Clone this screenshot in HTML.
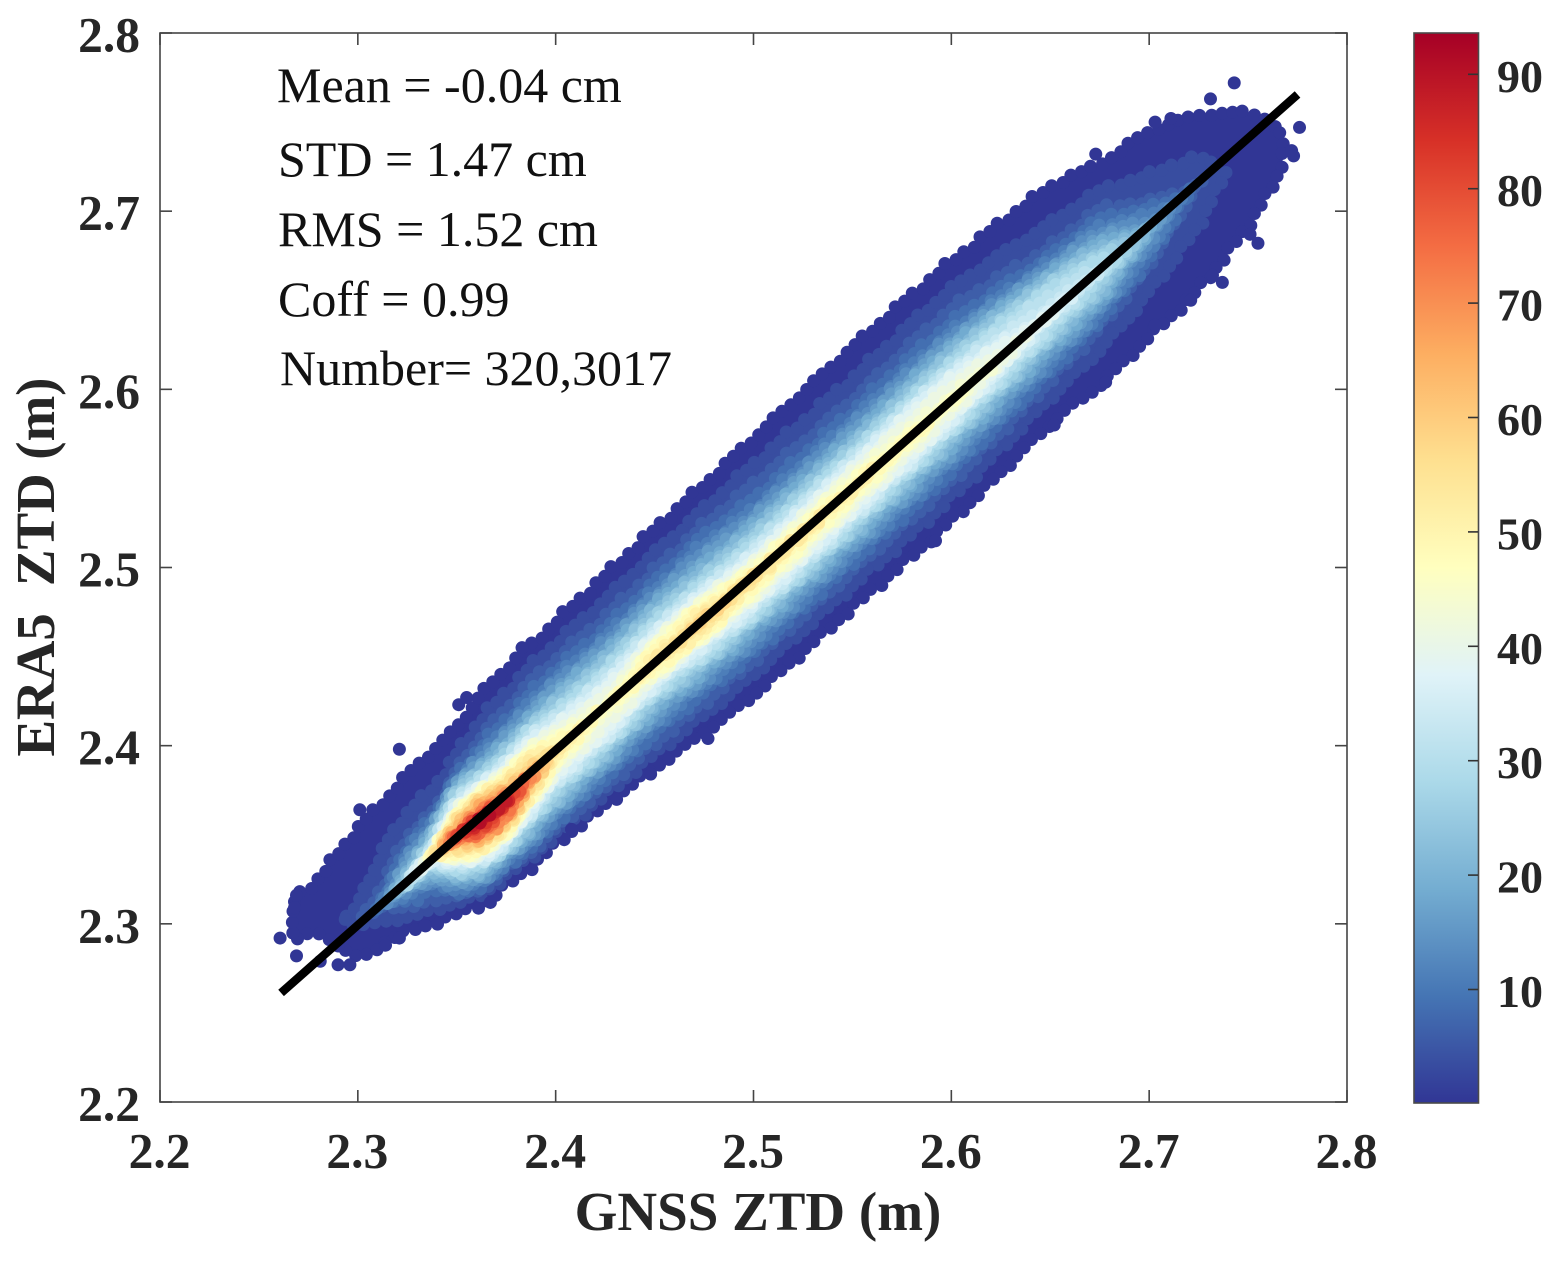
<!DOCTYPE html>
<html lang="en">
<head>
<meta charset="utf-8">
<title>ERA5 ZTD vs GNSS ZTD density scatter</title>
<style>
html,body{margin:0;padding:0;background:#fff;}
svg{display:block;}
text{font-family:"Liberation Serif",serif;}
.tick{font-weight:bold;font-size:49.5px;fill:#262626;}
.cbar-tick{font-weight:bold;font-size:46px;fill:#262626;}
.axis-title{font-weight:bold;font-size:55px;fill:#262626;}
.stat{font-size:50px;fill:#111;}
</style>
</head>
<body>
<svg id="chart" xmlns="http://www.w3.org/2000/svg" width="1558" height="1262" viewBox="0 0 1558 1262">
  <defs>
    <linearGradient id="cbar-gradient" x1="0" y1="1" x2="0" y2="0"></linearGradient>
    <clipPath id="plot-clip"><rect x="160" y="33" width="1187" height="1069"></rect></clipPath>
  </defs>
  <rect x="0" y="0" width="1558" height="1262" fill="#fff"></rect>
  <g id="density-layer" clip-path="url(#plot-clip)"></g>
  <g id="outlier-layer" clip-path="url(#plot-clip)"></g>
  <g id="line-layer"></g>
  <g id="axes-layer"></g>
  <g id="colorbar-layer"></g>
  <text class="axis-title" x="758" y="1230" text-anchor="middle">GNSS ZTD (m)</text>
  <text class="axis-title" transform="translate(54,567) rotate(-90)" text-anchor="middle" textLength="379" xml:space="preserve">ERA5  ZTD (m)</text>
  <text class="stat" x="277" y="102">Mean = -0.04 cm</text>
  <text class="stat" x="278" y="176">STD = 1.47 cm</text>
  <text class="stat" x="278" y="246">RMS = 1.52 cm</text>
  <text class="stat" x="278" y="316">Coff = 0.99</text>
  <text class="stat" x="280" y="385">Number= 320,3017</text>
</svg>
<script>
// ---- Axis tick labels ----
const xTicks = ["2.2", "2.3", "2.4", "2.5", "2.6", "2.7", "2.8"];
const yTicks = ["2.2", "2.3", "2.4", "2.5", "2.6", "2.7", "2.8"];
const colorbarTicks = [10, 20, 30, 40, 50, 60, 70, 80, 90];

// ---- Fit line (GNSS, ERA5) end points in metres ----
const lineGnss = [2.2612, 2.7750];
const lineEra5 = [2.2612, 2.7655];

// ---- Density band ----
// Stations along GNSS ZTD (m)
const stations = [2.268, 2.28, 2.30, 2.3125, 2.325, 2.3375, 2.35, 2.3625, 2.375, 2.3875, 2.40, 2.425, 2.45, 2.475, 2.50, 2.55, 2.60, 2.65, 2.675, 2.70, 2.725, 2.75, 2.766];
// Peak point density on each station's cross-section
const peakDensity = [1.5, 2, 4.5, 10, 28, 48, 80, 93, 88, 68, 54, 47, 53, 60, 56, 52, 47, 38, 33, 19, 5.5, 1.5, 1.2];
// ERA5 - GNSS (cm) where the peak sits
const ridgeOffset = [3.4, 3.0, 0, -0.1, -0.2, 0.05, -0.1, -0.4, -0.6, -0.5, -0.3, -0.4, -0.2, -0.45, -0.5, -0.6, -0.7, -0.8, -0.85, -1.0, -1.0, -2.5, -3.0];

// Contour density levels and their ERA5 - GNSS offsets (cm) at each station
const anchorLevels = [1, 5, 10, 20, 30, 40, 50, 60, 70, 80, 90];
const n = null;
const upper1 = [4.8, 4.9, 5.7, 5.9, 6.2, 6.3, 6.4, 7.0, 7.2, 7.2, 7.3, 7.4, 7.5, 7.5, 7.6, 7.7, 7.5, 6.7, 5.5, 4.8, 3.2, 0.85, -1.8];
const lower1 = [2.0, 1.1, -2.2, -2.7, -3.3, -4.1, -4.8, -5.5, -5.7, -5.9, -5.9, -6.2, -6.6, -7.1, -7.5, -7.6, -7.7, -7.3, -7.6, -7.4, -7.2, -6.1, -4.6];
const upper5 = [n, n, n, 1.8, 3.1, 3.1, 4.2, 5.0, 5.3, 5.6, 5.6, 5.5, 5.6, 5.6, 5.5, 5.2, 5.3, 3.7, 3.3, 1.2, -0.3, n, n];
const lower5 = [n, n, n, -0.9, -2.3, -3.1, -4.0, -4.9, -5.0, -5.3, -5.3, -5.5, -5.6, -5.8, -5.9, -5.9, -5.9, -5.2, -4.7, -3.6, -1.7, n, n];
const upper10 = [n, n, n, n, 2.0, 2.45, 3.5, 3.9, 4.1, 4.3, 4.4, 4.2, 4.3, 4.45, 3.9, 3.9, 3.8, 2.7, 2.2, 0.45, n, n, n];
const lower10 = [n, n, n, n, -1.5, -2.1, -3.65, -4.5, -4.6, -4.8, -4.6, -4.6, -4.5, -4.7, -5.0, -4.9, -4.8, -4.2, -3.8, -2.9, n, n, n];
const upper20 = [n, n, n, n, 0.9, 1.7, 3.1, 2.95, 3.0, 3.1, 3.2, 3.0, 3.2, 2.95, 2.7, 2.6, 2.7, 1.8, 1.0, n, n, n, n];
const lower20 = [n, n, n, n, -0.7, -1.4, -2.9, -3.8, -4.0, -3.9, -3.7, -3.6, -3.3, -3.6, -3.7, -3.7, -3.5, -2.9, -2.7, n, n, n, n];
const upper30 = [n, n, n, n, n, 1.05, 2.4, 2.3, 2.2, 2.5, 2.2, 2.0, 2.2, 2.0, 1.7, 1.7, 1.7, 1.0, 0.1, n, n, n, n];
const lower30 = [n, n, n, n, n, -0.9, -2.35, -3.3, -3.5, -3.1, -2.8, -2.8, -2.4, -2.8, -3.0, -2.9, -2.6, -2.0, -1.5, n, n, n, n];
const upper40 = [n, n, n, n, n, 0.55, 1.8, 1.8, 1.6, 1.7, 1.4, 1.0, 1.35, 1.25, 0.8, 0.9, 0.9, n, n, n, n, n, n];
const lower40 = [n, n, n, n, n, -0.55, -1.85, -2.85, -3.0, -2.5, -2.0, -2.0, -1.7, -1.9, -2.2, -2.1, -1.9, n, n, n, n, n, n];
const upper50 = [n, n, n, n, n, n, 1.4, 1.45, 1.1, 1.2, 0.5, n, 0.7, 0.7, 0.1, -0.1, n, n, n, n, n, n, n];
const lower50 = [n, n, n, n, n, n, -1.5, -2.5, -2.6, -2.0, -1.2, n, -1.1, -1.6, -1.4, -1.1, n, n, n, n, n, n, n];
const upper60 = [n, n, n, n, n, n, 1.0, 1.1, 0.55, 0.3, n, n, n, n, n, n, n, n, n, n, n, n, n];
const lower60 = [n, n, n, n, n, n, -1.0, -2.0, -2.2, -1.4, n, n, n, n, n, n, n, n, n, n, n, n, n];
const upper70 = [n, n, n, n, n, n, 0.45, 0.6, 0.15, n, n, n, n, n, n, n, n, n, n, n, n, n, n];
const lower70 = [n, n, n, n, n, n, -0.7, -1.7, -1.9, n, n, n, n, n, n, n, n, n, n, n, n, n, n];
const upper80 = [n, n, n, n, n, n, 0.17, 0.25, -0.1, n, n, n, n, n, n, n, n, n, n, n, n, n, n];
const lower80 = [n, n, n, n, n, n, -0.3, -1.4, -1.1, n, n, n, n, n, n, n, n, n, n, n, n, n, n];
const upper90 = [n, n, n, n, n, n, n, 0.0, n, n, n, n, n, n, n, n, n, n, n, n, n, n, n];
const lower90 = [n, n, n, n, n, n, n, -0.8, n, n, n, n, n, n, n, n, n, n, n, n, n, n, n];

// Isolated points on the rim of the cloud (GNSS m, ERA5 m)
const outlierGnss = [2.2607, 2.269, 2.268, 2.269, 2.301, 2.321, 2.351, 2.355, 2.383, 2.673, 2.703, 2.711, 2.731, 2.743, 2.776, 2.772, 2.773, 2.755, 2.751, 2.737, 2.732, 2.721, 2.703, 2.678, 2.652, 2.592, 2.518, 2.477, 2.448, 2.408, 2.367, 2.334, 2.321, 2.314, 2.296, 2.290, 2.281];
const outlierEra5 = [2.292, 2.282, 2.309, 2.316, 2.364, 2.398, 2.423, 2.427, 2.455, 2.732, 2.750, 2.752, 2.763, 2.772, 2.747, 2.734, 2.731, 2.682, 2.687, 2.660, 2.664, 2.650, 2.636, 2.604, 2.580, 2.515, 2.448, 2.404, 2.384, 2.353, 2.312, 2.299, 2.292, 2.288, 2.277, 2.277, 2.279];

// Colormap stops (RdYlBu reversed)
const cmapStops = ["#313695", "#4575b4", "#74add1", "#abd9e9", "#e0f3f8", "#ffffbf", "#fee090", "#fdae61", "#f46d43", "#d73027", "#a50026"];
const densityMin = 0.1;
const densityMax = 93.6;

const upperByLevel = [upper1, upper5, upper10, upper20, upper30, upper40, upper50, upper60, upper70, upper80, upper90];
const lowerByLevel = [lower1, lower5, lower10, lower20, lower30, lower40, lower50, lower60, lower70, lower80, lower90];

// ---- Scales ----
const SVGNS = "http://www.w3.org/2000/svg";
function sx(g) { return 160 + (g - 2.2) * 1187 / 0.6; }
function sy(e) { return 1102 - (e - 2.2) * 1069 / 0.6; }
function cy(v) { return 989.5 - (v - 10) * 11.44; }
function make(tag, parent, attrs, txt) {
  const el = document.createElementNS(SVGNS, tag);
  for (const k in attrs) el.setAttribute(k, attrs[k]);
  if (txt !== undefined) el.textContent = txt;
  parent.appendChild(el);
  return el;
}
function hex(c) { return [1, 3, 5].map(function (i) { return parseInt(c.substr(i, 2), 16); }); }
function cmap(v) {
  const t = Math.max(0, Math.min(1, (v - densityMin) / (densityMax - densityMin))) * (cmapStops.length - 1);
  const i = Math.min(cmapStops.length - 2, Math.floor(t));
  const a = hex(cmapStops[i]), b = hex(cmapStops[i + 1]), f = t - i;
  return "rgb(" + a.map(function (x, j) { return Math.round(x + (b[j] - x) * f); }).join(",") + ")";
}

// ---- Contours ----
function offsetAt(i, L, table) {
  let lo = 0;
  for (let k = 0; k < anchorLevels.length; k++) {
    if (anchorLevels[k] <= L && table[k][i] !== null) lo = k;
  }
  const v1 = anchorLevels[lo], o1 = table[lo][i];
  const nxt = lo + 1 < anchorLevels.length ? table[lo + 1][i] : null;
  const v2 = nxt !== null ? anchorLevels[lo + 1] : peakDensity[i];
  const o2 = nxt !== null ? nxt : ridgeOffset[i];
  if (v2 <= v1) return o1;
  return o1 + (o2 - o1) * Math.max(0, Math.min(1, (L - v1) / (v2 - v1)));
}
const discRadius = 6.5;
function contourRuns(L) {
  const insetCm = L === 1 ? 0.36 : 0.49;
  const runs = [];
  let run = null;
  for (let i = 0; i < stations.length; i++) {
    const p = peakDensity[i];
    if (p >= L) {
      if (!run) {
        run = [];
        if (i > 0) {
          const f = (L - peakDensity[i - 1]) / (p - peakDensity[i - 1]);
          const r = ridgeOffset[i - 1] + (ridgeOffset[i] - ridgeOffset[i - 1]) * f;
          run.push({ g: stations[i - 1] + (stations[i] - stations[i - 1]) * f, u: r, l: r });
        }
      }
      let u = offsetAt(i, L, upperByLevel) - insetCm;
      let l = offsetAt(i, L, lowerByLevel) + insetCm;
      if (u < l) { u = l = (u + l) / 2; }
      run.push({ g: stations[i], u: u, l: l });
    } else if (run) {
      const f = (peakDensity[i - 1] - L) / (peakDensity[i - 1] - p);
      const r = ridgeOffset[i - 1] + (ridgeOffset[i] - ridgeOffset[i - 1]) * f;
      run.push({ g: stations[i - 1] + (stations[i] - stations[i - 1]) * f, u: r, l: r });
      runs.push(run);
      run = null;
    }
  }
  if (run) runs.push(run);
  return runs;
}
function smoothClosed(pts) {
  const m = pts.length;
  let d = "M" + pts[0][0].toFixed(1) + " " + pts[0][1].toFixed(1);
  for (let i = 0; i < m; i++) {
    const p0 = pts[(i - 1 + m) % m], p1 = pts[i], p2 = pts[(i + 1) % m], p3 = pts[(i + 2) % m];
    d += "C" + (p1[0] + (p2[0] - p0[0]) / 6).toFixed(1) + " " + (p1[1] + (p2[1] - p0[1]) / 6).toFixed(1) + " " +
         (p2[0] - (p3[0] - p1[0]) / 6).toFixed(1) + " " + (p2[1] - (p3[1] - p1[1]) / 6).toFixed(1) + " " +
         p2[0].toFixed(1) + " " + p2[1].toFixed(1);
  }
  return d + "Z";
}

const densityLayer = document.getElementById("density-layer");
const drawLevels = [];
for (let L = 1; L < densityMax; L += 2.5) drawLevels.push(L);
drawLevels.forEach(function (L, li) {
  const color = cmap(L === 1 ? 0.1 : L);
  contourRuns(L).forEach(function (run) {
    const up = run.map(function (s) { return [sx(s.g), sy(s.g + s.u / 100)]; });
    const lo = run.map(function (s) { return [sx(s.g), sy(s.g + s.l / 100)]; }).reverse();
    const pts = up.concat(lo);
    const path = make("path", densityLayer, { d: smoothClosed(pts), fill: color, stroke: color, "stroke-width": 1 });
    
    
    const len = path.getTotalLength();
    const gap = 11;
    for (let s = (li * 3.7) % gap; s < len; s += gap) {
      const q = path.getPointAtLength(s);
      // roughen the contour so overlapping discs read like individual scatter points
      const wobble = 3 * Math.sin(s * 0.37 + li) * Math.sin(s * 0.091 + li * 0.5);
      const dot = make("circle", densityLayer, { cx: (q.x + 0.66 * wobble).toFixed(1), cy: (q.y + 0.75 * wobble).toFixed(1), r: discRadius, fill: color });
      
      
    }
  });
});

// ---- Outliers ----
const outlierLayer = document.getElementById("outlier-layer");
outlierGnss.forEach(function (g, i) {
  const dot = make("circle", outlierLayer, { cx: sx(g), cy: sy(outlierEra5[i]), r: discRadius, fill: "#313695" });
  
  
});

// ---- Fit line ----
const lineLayer = document.getElementById("line-layer");
const fitLine = make("line", lineLayer, { x1: sx(lineGnss[0]), y1: sy(lineEra5[0]), x2: sx(lineGnss[1]), y2: sy(lineEra5[1]), stroke: "#000", "stroke-width": 8.5 });



// ---- Axes ----
const axesLayer = document.getElementById("axes-layer");
const plotFrame = make("rect", axesLayer, { x: 160, y: 33, width: 1187, height: 1069, fill: "none", stroke: "#444", "stroke-width": 1.6 });


xTicks.forEach(function (t) {
  const x = sx(parseFloat(t));
  const b = make("line", axesLayer, { x1: x, y1: 1102, x2: x, y2: 1090, stroke: "#444", "stroke-width": 1.6 });
  
  
  const a = make("line", axesLayer, { x1: x, y1: 33, x2: x, y2: 45, stroke: "#444", "stroke-width": 1.6 });
  
  
  const label = make("text", axesLayer, { x: x - 0.5, y: 1167.5, "text-anchor": "middle", "class": "tick" }, t);
  
  
});
yTicks.forEach(function (t) {
  const y = sy(parseFloat(t));
  const l = make("line", axesLayer, { x1: 160, y1: y, x2: 172, y2: y, stroke: "#444", "stroke-width": 1.6 });
  
  
  const r = make("line", axesLayer, { x1: 1347, y1: y, x2: 1335, y2: y, stroke: "#444", "stroke-width": 1.6 });
  
  
  const label = make("text", axesLayer, { x: 140, y: y + 18.5, "text-anchor": "end", "class": "tick" }, t);
  
  
});

// ---- Colorbar ----
const gradient = document.getElementById("cbar-gradient");
cmapStops.forEach(function (c, i) {
  make("stop", gradient, { offset: (i / (cmapStops.length - 1)), "stop-color": c });
});
const colorbarLayer = document.getElementById("colorbar-layer");
const cbarRect = make("rect", colorbarLayer, { x: 1414, y: 33, width: 64.5, height: 1070, fill: "url(#cbar-gradient)", stroke: "#4a4a4a", "stroke-width": 1.6 });


colorbarTicks.forEach(function (v) {
  const y = cy(v);
  const tick = make("line", colorbarLayer, { x1: 1468, y1: y, x2: 1478, y2: y, stroke: "#333", "stroke-width": 1.6 });
  
  
  const label = make("text", colorbarLayer, { x: 1497, y: y + 17.5, "class": "cbar-tick" }, String(v));
  
  
});
</script>
</body>
</html>
